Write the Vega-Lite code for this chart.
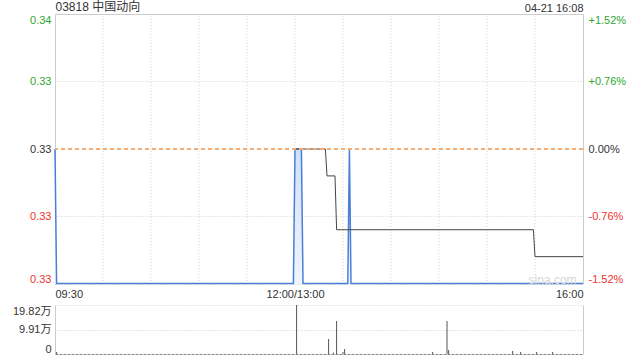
{
  "$schema": "https://vega.github.io/schema/vega-lite/v6.json",
  "width": 528,
  "height": 341,
  "autosize": {"type": "none"},
  "padding": {"left": 55, "top": 14, "right": 57, "bottom": 5},
  "background": "white",
  "config": {
    "view": {"stroke": null},
    "font": "Liberation Sans, Noto Sans CJK SC",
    "axis": {
      "labelFont": "Liberation Sans, Noto Sans CJK SC",
      "titleFont": "Liberation Sans, Noto Sans CJK SC",
      "labelFontSize": 11,
      "ticks": false,
      "domain": false,
      "grid": false,
      "minExtent": 0,
      "maxExtent": 200
    }
  },
  "datasets": {
    "blue": [
      {"m": 0, "p": 0.33},
      {"m": 1, "p": 0.325},
      {"m": 149, "p": 0.325},
      {"m": 150, "p": 0.33},
      {"m": 154, "p": 0.33},
      {"m": 155, "p": 0.325},
      {"m": 183, "p": 0.325},
      {"m": 184, "p": 0.33},
      {"m": 185, "p": 0.325},
      {"m": 330, "p": 0.325}
    ],
    "black": [
      {"m": 150, "p": 0.33},
      {"m": 169, "p": 0.33},
      {"m": 170, "p": 0.329},
      {"m": 175, "p": 0.329},
      {"m": 176, "p": 0.327},
      {"m": 299, "p": 0.327},
      {"m": 300, "p": 0.326},
      {"m": 330, "p": 0.326}
    ],
    "vol": [
      {"m": 1, "v": 8000},
      {"m": 151, "v": 198200},
      {"m": 171, "v": 60700},
      {"m": 174, "v": 6000},
      {"m": 176, "v": 133500},
      {"m": 180, "v": 8000},
      {"m": 181, "v": 20000},
      {"m": 236, "v": 8000},
      {"m": 245, "v": 133500},
      {"m": 246, "v": 16000},
      {"m": 286, "v": 12000},
      {"m": 291, "v": 8000},
      {"m": 301, "v": 8000},
      {"m": 311, "v": 8000}
    ],
    "ticks": [
      {"m": 30}, {"m": 60}, {"m": 90}, {"m": 120}, {"m": 150},
      {"m": 180}, {"m": 210}, {"m": 240}, {"m": 270}, {"m": 300}
    ],
    "mark": [
      {"m": 311, "p": 0.32515, "label": "sina.com"}
    ]
  },
  "layer": [
    {
      "layer": [
        {
          "data": {"name": "ticks"},
          "mark": {"type": "rule", "color": "#d4d4d4", "strokeDash": [1, 2], "strokeWidth": 1},
          "encoding": {
            "x": {"field": "m", "type": "quantitative", "scale": {"domain": [0, 330], "nice": false, "zero": false}, "axis": null},
            "y": {"datum": 0.324984, "type": "quantitative", "scale": {"domain": [0.324984, 0.335016], "range": [270, 0], "nice": false, "zero": false}, "axis": null},
            "y2": {"datum": 0.335016}
          }
        },
        {
          "data": {"name": "blue"},
          "mark": {
            "type": "area",
            "fill": {
              "gradient": "linear", "x1": 0, "y1": 0, "x2": 0, "y2": 1,
              "stops": [{"offset": 0, "color": "#d2e0f6"}, {"offset": 1, "color": "#f0f5fd"}]
            }
          },
          "encoding": {
            "x": {
              "field": "m", "type": "quantitative",
              "scale": {"domain": [0, 330], "nice": false, "zero": false},
              "axis": {
                "orient": "bottom", "offset": -71, "values": [0, 150, 330],
                "labelExpr": "datum.value==0?'09:30':datum.value==150?'12:00/13:00':'16:00'",
                "labelFlush": true, "labelPadding": 4, "title": null, "grid": false, "labelColor": "#333333"
              }
            },
            "y": {
              "field": "p", "type": "quantitative",
              "scale": {"domain": [0.324984, 0.335016], "range": [270, 0], "nice": false, "zero": false},
              "axis": {
                "orient": "left",
                "values": [0.324984, 0.327492, 0.33, 0.332508, 0.335016],
                "labelExpr": "datum.value>0.334?'0.34':'0.33'",
                "labelFlush": true, "labelPadding": 4, "title": null,
                "labelColor": {"condition": [{"test": "datum.value>0.3301", "value": "#2ea82e"}, {"test": "datum.value<0.3299", "value": "#ee3333"}], "value": "#333333"},
                "grid": true, "gridColor": "#cccccc",
                "gridDash": {"condition": {"test": "datum.value>0.335", "value": []}, "value": [1, 2]},
                "gridOpacity": {"condition": {"test": "abs(datum.value-0.33)<0.0001", "value": 0}, "value": 1},
                "domain": true, "domainColor": "#cccccc"
              }
            },
            "y2": {"datum": 0.324984}
          }
        },
        {
          "data": {"name": "blue"},
          "mark": {"type": "line", "color": "#4a7fd8", "strokeWidth": 1.5},
          "encoding": {
            "x": {
              "field": "m", "type": "quantitative",
              "scale": {"domain": [0, 330], "nice": false, "zero": false},
              "axis": {
                "orient": "top", "labels": false, "grid": false, "domain": false, "ticks": false,
                "title": "04-21 16:08", "titleAnchor": "end", "titlePadding": 1,
                "titleFontSize": 11, "titleFontWeight": "normal", "titleColor": "#333333"
              }
            },
            "y": {"field": "p", "type": "quantitative", "axis": null}
          }
        },
        {
          "data": {"name": "black"},
          "mark": {"type": "line", "color": "#444444", "strokeWidth": 1},
          "encoding": {
            "x": {
              "field": "m", "type": "quantitative",
              "scale": {"domain": [0, 330], "nice": false, "zero": false},
              "axis": {
                "orient": "top", "labels": false, "grid": false, "domain": false, "ticks": false,
                "title": "03818 中国动向", "titleAnchor": "start", "titlePadding": 1,
                "titleFontSize": 12, "titleFontWeight": "normal", "titleColor": "#333333"
              }
            },
            "y": {
              "field": "p", "type": "quantitative",
              "axis": {
                "orient": "right",
                "values": [0.324984, 0.327492, 0.33, 0.332508, 0.335016],
                "labelExpr": "datum.value>0.334?'+1.52%':datum.value>0.331?'+0.76%':datum.value>0.329?'0.00%':datum.value>0.326?'-0.76%':'-1.52%'",
                "labelFlush": true, "labelPadding": 5, "title": null, "grid": false,
                "labelColor": {"condition": [{"test": "datum.value>0.3301", "value": "#2ea82e"}, {"test": "datum.value<0.3299", "value": "#ee3333"}], "value": "#333333"},
                "domain": true, "domainColor": "#cccccc"
              }
            }
          }
        },
        {
          "data": {"name": "ticks"},
          "mark": {"type": "rule", "color": "#f4ab72", "strokeDash": [4, 3], "strokeWidth": 1},
          "encoding": {
            "y": {"datum": 0.33, "type": "quantitative", "axis": null}
          }
        },
        {
          "data": {"name": "mark"},
          "mark": {"type": "text", "fontSize": 12, "color": "#d6d6d6", "align": "center", "baseline": "middle"},
          "encoding": {
            "x": {"field": "m", "type": "quantitative", "axis": null},
            "y": {"field": "p", "type": "quantitative", "axis": null},
            "text": {"field": "label"}
          }
        }
      ],
      "resolve": {"axis": {"x": "independent", "y": "independent"}}
    },
    {
      "layer": [
        {
          "data": {"name": "vol"},
          "mark": {"type": "rule", "color": "#555555", "strokeWidth": 1},
          "encoding": {
            "x": {"field": "m", "type": "quantitative", "scale": {"domain": [0, 330], "nice": false, "zero": false}, "axis": null},
            "y": {
              "field": "v", "type": "quantitative",
              "scale": {"domain": [0, 198200], "range": [340, 291], "nice": false, "zero": true},
              "axis": {
                "orient": "left", "values": [0, 99100, 198200],
                "labelExpr": "datum.value==0?'0':format(datum.value/10000,'.2f')+'万'",
                "labelFlush": true, "labelPadding": 4, "title": null, "labelColor": "#333333",
                "grid": true,
                "gridColor": {"condition": {"test": "datum.value==0", "value": "#888888"}, "value": "#cccccc"},
                "gridDash": {"condition": {"test": "datum.value==0", "value": [3, 1]}, "value": [1, 2]},
                "domain": true, "domainColor": "#cccccc"
              }
            },
            "y2": {"datum": 0}
          }
        },
        {
          "data": {"name": "vol"},
          "mark": {"type": "rule", "opacity": 0},
          "encoding": {
            "x": {"field": "m", "type": "quantitative", "axis": null},
            "y": {
              "field": "v", "type": "quantitative",
              "axis": {"orient": "right", "labels": false, "grid": false, "title": null, "domain": true, "domainColor": "#cccccc"}
            }
          }
        }
      ],
      "resolve": {"axis": {"x": "independent", "y": "independent"}}
    }
  ],
  "resolve": {"scale": {"y": "independent"}, "axis": {"x": "independent", "y": "independent"}}
}
